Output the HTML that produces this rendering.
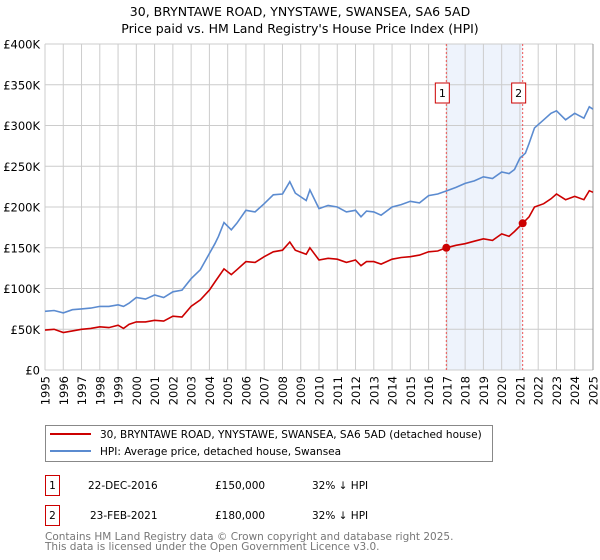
<!DOCTYPE html>
<html><head><meta charset="utf-8"><style>
body{margin:0;background:#fff;font-family:"DejaVu Sans","Liberation Sans",sans-serif;}
svg{display:block}
</style></head><body>
<svg id="chart" width="600" height="560" viewBox="0 0 600 560" xmlns="http://www.w3.org/2000/svg" font-family="DejaVu Sans, Liberation Sans, sans-serif">
<text x="300" y="16" text-anchor="middle" font-size="12.5" fill="#000">30, BRYNTAWE ROAD, YNYSTAWE, SWANSEA, SA6 5AD</text>
<text x="300" y="33" text-anchor="middle" font-size="12.5" fill="#000">Price paid vs. HM Land Registry's House Price Index (HPI)</text>
<g id="plot"></g>
<g>
<rect x="45.5" y="425.5" width="447" height="36" fill="#fff" stroke="#888"/>
<line x1="50" y1="434" x2="91" y2="434" stroke="#cc0000" stroke-width="2"/>
<text x="100" y="438" font-size="10.5">30, BRYNTAWE ROAD, YNYSTAWE, SWANSEA, SA6 5AD (detached house)</text>
<line x1="50" y1="451" x2="91" y2="451" stroke="#5b8bd0" stroke-width="2"/>
<text x="100" y="455" font-size="10.5">HPI: Average price, detached house, Swansea</text>
</g>
<g font-size="10.5">
<rect x="45.5" y="475.5" width="14" height="20" fill="#fff" stroke="#cc0000"/>
<text x="52.5" y="489" text-anchor="middle">1</text>
<text x="88" y="489">22-DEC-2016</text>
<text x="215" y="489">£150,000</text>
<text x="312" y="489">32% ↓ HPI</text>
<rect x="45.5" y="505.5" width="14" height="20" fill="#fff" stroke="#cc0000"/>
<text x="52.5" y="519" text-anchor="middle">2</text>
<text x="90" y="519">23-FEB-2021</text>
<text x="215" y="519">£180,000</text>
<text x="312" y="519">32% ↓ HPI</text>
</g>
<text x="45" y="540" font-size="10.5" fill="#777">Contains HM Land Registry data © Crown copyright and database right 2025.</text>
<text x="45" y="550" font-size="10.5" fill="#777">This data is licensed under the Open Government Licence v3.0.</text>
</svg>
<script>
const yearTicks = [1995,1996,1997,1998,1999,2000,2001,2002,2003,2004,2005,2006,2007,2008,2009,2010,2011,2012,2013,2014,2015,2016,2017,2018,2019,2020,2021,2022,2023,2024,2025];
const valueTicks = [0,50000,100000,150000,200000,250000,300000,350000,400000];
const valueTickLabels = ["£0","£50K","£100K","£150K","£200K","£250K","£300K","£350K","£400K"];
const hpiYears = [1995,1995.5,1996,1996.5,1997,1997.5,1998,1998.5,1999,1999.3,1999.6,2000,2000.5,2001,2001.5,2002,2002.5,2003,2003.5,2004,2004.3,2004.5,2004.8,2005.2,2005.5,2006,2006.5,2007,2007.5,2008,2008.4,2008.7,2009.3,2009.5,2010,2010.5,2011,2011.5,2012,2012.3,2012.6,2013,2013.4,2014,2014.5,2015,2015.5,2016,2016.5,2017,2017.5,2018,2018.5,2019,2019.5,2020,2020.4,2020.7,2021,2021.3,2021.5,2021.8,2022.3,2022.7,2023,2023.5,2024,2024.5,2024.8,2025];
const hpiValues = [72000,73000,70000,74000,75000,76000,78000,78000,80000,78000,82000,89000,87000,92000,89000,96000,98000,112000,123000,143000,155000,164000,181000,172000,180000,196000,194000,204000,215000,216000,231000,217000,208000,221000,198000,202000,200000,194000,196000,188000,195000,194000,190000,200000,203000,207000,205000,214000,216000,220000,224000,229000,232000,237000,235000,243000,241000,246000,260000,266000,278000,297000,307000,315000,318000,307000,315000,309000,323000,320000];
const ppYears = [1995,1995.5,1996,1996.5,1997,1997.5,1998,1998.5,1999,1999.3,1999.6,2000,2000.5,2001,2001.5,2002,2002.5,2003,2003.5,2004,2004.3,2004.8,2005.2,2005.5,2006,2006.5,2007,2007.5,2008,2008.4,2008.7,2009.3,2009.5,2010,2010.5,2011,2011.5,2012,2012.3,2012.6,2013,2013.4,2014,2014.5,2015,2015.5,2016,2016.5,2016.97,2017.5,2018,2018.5,2019,2019.5,2020,2020.4,2020.7,2021.15,2021.5,2021.8,2022.3,2022.7,2023,2023.5,2024,2024.5,2024.8,2025];
const ppValues = [49000,50000,46000,48000,50000,51000,53000,52000,55000,51000,56000,59000,59000,61000,60000,66000,65000,78000,86000,98000,108000,124000,117000,123000,133000,132000,139000,145000,147000,157000,147000,142000,150000,135000,137000,136000,132000,135000,128000,133000,133000,130000,136000,138000,139000,141000,145000,146000,150000,153000,155000,158000,161000,159000,167000,164000,170000,180000,188000,200000,204000,210000,216000,209000,213000,209000,220000,218000];
const saleYears = [2016.97, 2021.15];
const saleValues = [150000, 180000];
const saleLabels = ["1","2"];

const NS="http://www.w3.org/2000/svg";
const X0=45,X1=593,Y0=370,Y1=44;
const xs=y=>X0+(y-1995)/(2025-1995)*(X1-X0);
const ys=v=>Y0-v/400000*(Y0-Y1);
const plot=document.getElementById('plot');
function mk(tag,attrs,parent){const e=document.createElementNS(NS,tag);for(const k in attrs)e.setAttribute(k,attrs[k]);(parent||plot).appendChild(e);return e;}

const band=mk('rect',{x:xs(saleYears[0]),y:Y1,width:xs(saleYears[1])-xs(saleYears[0]),height:Y0-Y1,fill:'#eef3fc'});



yearTicks.forEach(yr=>{
  const l=mk('line',{x1:xs(yr),x2:xs(yr),y1:Y1,y2:Y0,stroke:'#cccccc','stroke-width':1});
  
  
  const t=mk('text',{x:0,y:0,'font-size':11.5,'text-anchor':'end',transform:`translate(${xs(yr)+4.5},${Y0+6}) rotate(-90)`});
  t.textContent=yr;
  
  
});
valueTicks.forEach((v,i)=>{
  const l=mk('line',{x1:X0,x2:X1,y1:ys(v),y2:ys(v),stroke:'#cccccc','stroke-width':1});
  
  
  const t=mk('text',{x:40,y:ys(v)+4.5,'font-size':11.5,'text-anchor':'end'});
  t.textContent=valueTickLabels[i];
  
  
});
const edge=mk('line',{x1:X1,x2:X1,y1:Y1,y2:Y0,stroke:'#999','stroke-width':1});



saleYears.forEach((yr,i)=>{
  const l=mk('line',{x1:xs(yr),x2:xs(yr),y1:Y1,y2:Y0,stroke:'#ee5555','stroke-width':1,'stroke-dasharray':'2,2'});
  
  
});

function pathFrom(xa,va){return xa.map((y,i)=>(i?'L':'M')+xs(y).toFixed(1)+','+ys(va[i]).toFixed(1)).join('');}
const hpi=mk('path',{d:pathFrom(hpiYears,hpiValues),fill:'none',stroke:'#5b8bd0','stroke-width':1.6});


const pp=mk('path',{d:pathFrom(ppYears,ppValues),fill:'none',stroke:'#cc0000','stroke-width':1.6});



saleYears.forEach((yr,i)=>{
  const c=mk('circle',{cx:xs(yr),cy:ys(saleValues[i]),r:4,fill:'#cc0000'});
  
  
  const bx=xs(yr)-4;
  const r=mk('rect',{x:bx-7,y:83,width:14,height:20,fill:'#fff',stroke:'#cc0000'});
  
  
  const t=mk('text',{x:bx,y:97,'font-size':11,'text-anchor':'middle'});
  t.textContent=saleLabels[i];
  
  
});
</script>
</body></html>
